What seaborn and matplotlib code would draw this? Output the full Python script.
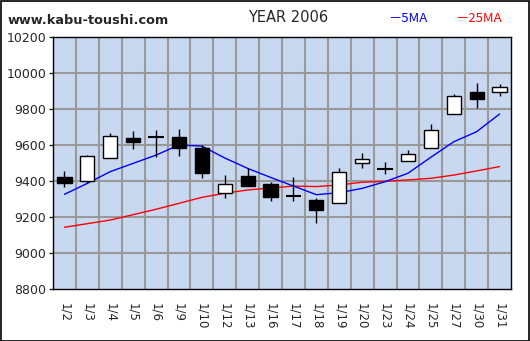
import matplotlib
matplotlib.use("Agg")
import matplotlib.pyplot as plt
import seaborn as sns
import numpy as np
import pandas as pd

dates = ["1/2", "1/3", "1/4", "1/5", "1/6", "1/9", "1/10", "1/12", "1/13", "1/16",
         "1/17", "1/18", "1/19", "1/20", "1/23", "1/24", "1/25", "1/27", "1/30", "1/31"]
open_ = [9424, 9402, 9526, 9637, 9641, 9646, 9585, 9335, 9428, 9383,
         9318, 9294, 9276, 9498, 9468, 9509, 9581, 9770, 9893, 9896]
high = [9456, 9544, 9665, 9678, 9683, 9689, 9600, 9433, 9474, 9396,
        9424, 9307, 9474, 9554, 9506, 9572, 9717, 9883, 9946, 9937]
low = [9368, 9391, 9526, 9576, 9535, 9541, 9418, 9307, 9374, 9291,
       9291, 9165, 9276, 9470, 9437, 9509, 9581, 9770, 9807, 9874]
close = [9391, 9539, 9650, 9618, 9642, 9585, 9446, 9383, 9374, 9313,
         9318, 9239, 9448, 9520, 9469, 9548, 9683, 9872, 9854, 9921]
ma5 = [9326, 9387, 9452, 9498, 9544, 9600, 9594, 9528, 9470, 9420,
       9372, 9324, 9335, 9359, 9396, 9443, 9532, 9618, 9674, 9772]
ma25 = [9143, 9163, 9183, 9213, 9243, 9276, 9309, 9332, 9350, 9361,
        9372, 9369, 9378, 9393, 9398, 9406, 9415, 9433, 9456, 9480]
yticks = [8800, 9000, 9200, 9400, 9600, 9800, 10000, 10200]

sns.set_style("white")
plt.rcParams['font.family'] = ['DejaVu Sans', 'Noto Sans CJK JP']

fig = plt.figure(figsize=(5.30, 3.41), dpi=100)
ax = fig.add_axes([53/530, 1 - 289/341, 458/530, 252/341])
ax.set_facecolor("#c8d8f0")

x = np.arange(len(dates))
df = pd.DataFrame({"x": x, "ma5": ma5, "ma25": ma25})

# grid
for v in yticks[1:-1]:
    ax.axhline(v, color="#999999", lw=1.5, zorder=1)
for b in np.arange(0.5, len(dates) - 0.5, 1):
    ax.axvline(b, color="#999999", lw=1.5, zorder=1)

sns.lineplot(data=df, x="x", y="ma25", ax=ax, color="#ff0000", lw=1.0, zorder=2)
sns.lineplot(data=df, x="x", y="ma5", ax=ax, color="#0000ff", lw=1.0, zorder=2)

# candles
for i in range(len(dates)):
    ax.vlines(x[i], low[i], high[i], color="black", lw=1.0, zorder=3)
    lo_b = min(open_[i], close[i])
    hi_b = max(open_[i], close[i])
    h = hi_b - lo_b
    if h < 6:
        ax.hlines(close[i], x[i] - 0.33, x[i] + 0.33, color="black", lw=1.5, zorder=4)
    else:
        fc = "white" if close[i] > open_[i] else "black"
        ax.bar(x[i], h, bottom=lo_b, width=0.62, color=fc, edgecolor="black",
               lw=1.0, zorder=4)

ax.set_xlim(-0.5, len(dates) - 0.5)
ax.set_ylim(8800, 10200)
ax.set_yticks(yticks)
ax.set_yticklabels([str(v) for v in yticks], fontsize=9)
ax.set_xticks(x)
ax.set_xticklabels(dates, rotation=-90, fontsize=8.5)
ax.tick_params(axis="y", length=3, width=1, pad=2, left=True)
ax.tick_params(axis="x", length=0, pad=10)
ax.set_xlabel("")
ax.set_ylabel("")
for s in ax.spines.values():
    s.set_color("black")
    s.set_linewidth(1.0)
    s.set_visible(True)

fig.text(8/530, 1 - 20/341, "www.kabu-toushi.com", fontsize=9.3, fontweight="bold",
         va="center", ha="left")
fig.text(288/530, 1 - 18/341, "YEAR 2006", fontsize=10.5, va="center", ha="center")
fig.text(388/530, 1 - 18/341, "－5MA", fontsize=9.5, color="#0000ff", va="center", ha="left",
         family=['Noto Sans CJK JP', 'DejaVu Sans'])
fig.text(455/530, 1 - 18/341, "－25MA", fontsize=9.5, color="#ff0000", va="center", ha="left",
         family=['Noto Sans CJK JP', 'DejaVu Sans'])

border = plt.Rectangle((0.5/530, 0.5/341), 528.5/530, 339.5/341, transform=fig.transFigure,
                       fill=False, edgecolor="black", lw=1.2)
fig.patches.append(border)

fig.savefig("out.png", dpi=100)
